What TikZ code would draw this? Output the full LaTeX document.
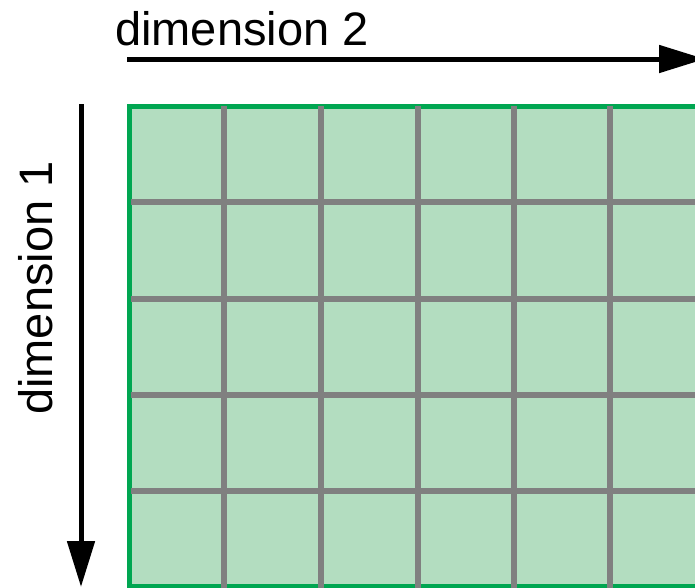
\documentclass[tikz,border=0pt]{standalone}
\usepackage{fontspec}
\setmainfont{Liberation Sans}
\usetikzlibrary{arrows.meta}
\definecolor{cellfill}{HTML}{B3DDC0}
\definecolor{borderg}{HTML}{00A651}
\definecolor{gridg}{HTML}{808080}
\begin{document}
\begin{tikzpicture}[x=1pt,y=-1pt,
  axisarrow/.style={line width=5pt,-{Triangle[length=46pt,width=27pt]}},
  lbl/.style={inner sep=0pt,font=\fontsize{47}{51}\selectfont},
  gline/.style={gridg,line width=5.5pt},
  bline/.style={borderg,line width=5pt}]
\useasboundingbox (0,0) rectangle (695,587);
\clip (0,0) rectangle (695,587);
% grid
\fill[cellfill] (129,106) rectangle (720,590);
\draw[bline] (740,106) -- (129,106) -- (129,586) -- (740,586);
\foreach \x in {224,321,418,514,610} \draw[gline] (\x,106) -- (\x,588);
\foreach \y in {202,299,395,491} \draw[gline] (131,\y) -- (720,\y);
% arrows
\coordinate (h1) at (127,59);
\coordinate (h2) at (705,59);
\coordinate (v1) at (81,104);
\coordinate (v2) at (81,587);
\draw[axisarrow] (h1) -- (h2);
\draw[axisarrow] (v1) -- (v2);
% labels
\node[lbl,anchor=base west] (d2) at (115,45) {dimension 2};
\node[lbl,anchor=base west,rotate=90] (d1) at (52,415) {dimension 1};
\end{tikzpicture}
\end{document}
